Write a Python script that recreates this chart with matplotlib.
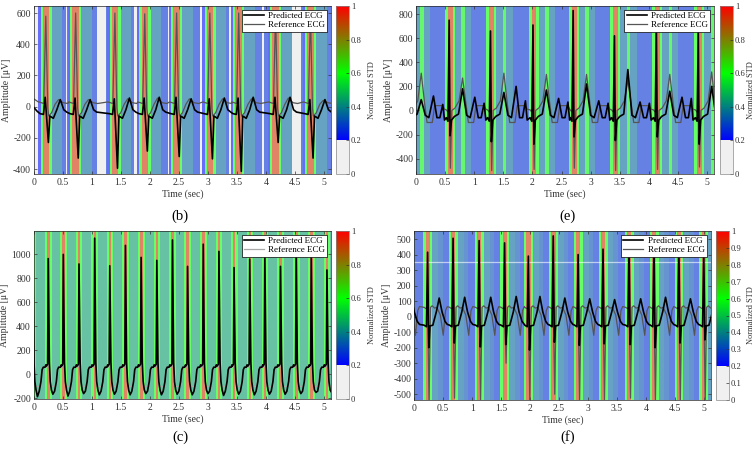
import matplotlib

matplotlib.use("Agg")
import matplotlib.pyplot as plt
from matplotlib.cm import ScalarMappable
from matplotlib.colors import LinearSegmentedColormap, Normalize
from matplotlib.ticker import FuncFormatter

# ---------------------------------------------------------------- panel (b)
b_beats = [0.208, 0.722, 1.398, 1.912, 2.461, 3.033, 3.530, 4.165, 4.766]
b_pred_r = [60, 55, 50, 55, 60, 50, 55, 60, 45]
b_pred_s = [-230, -330, -395, -285, -320, -335, -415, -230, -330]
b_pred_t = [45, 45, 55, 60, 50, 55, 60, 60, 45]
b_ref_r = [580, 600, 600, 595, 600, 600, 600, 600, 600]
b_ref_t = [45, 45, 50, 55, 50, 50, 50, 55, 40]
b_pred_head_t, b_pred_head = [0.0, 0.06], [-5, -30]
b_ref_head_t, b_ref_head = [0.0, 0.08], [50, 30]
b_pred_offs = [-0.10, -0.04, -0.01, 0.045, 0.07, 0.13, 0.19, 0.25, 0.31, 0.36]
b_pred_vals = [-45, -50, "r", "s", -60, -75, -20, "t", -20, -35]
b_ref_offs = [-0.12, -0.035, 0.0, 0.035, 0.05, 0.10, 0.16, 0.22, 0.30, 0.38]
b_ref_vals = [30, 20, "r", -10, -60, -40, 15, "t", 25, 20]
b_band_start = [-0.13, -0.09, -0.055, 0.06, 0.10]
b_band_end = [-0.09, -0.055, 0.06, 0.10, 0.28]
b_band_std = [0.22, 0.6, 0.92, 0.6, 0.36]
b_gap_start = [0.0, 0.55, 1.09, 1.72, 2.31, 2.86, 3.37, 3.93, 4.44]
b_gap_end = [0.08, 0.58, 1.25, 1.80, 2.36, 2.91, 3.41, 3.97, 4.61]

# ---------------------------------------------------------------- panel (e)
e_beats = [-0.14, 0.57, 1.28, 2.01, 2.70, 3.41, 4.13, 4.85]
e_pred_r = [700, 750, 660, 710, 830, 620, 720, 650]
e_pred_s = [-220, -210, -260, -280, -220, -250, -220, -280]
e_pred_t = [90, 180, 150, 170, 220, 340, 160, 200]
e_pred_p1 = [120, 110, 200, 100, 80, 70, 110, 100]
e_pred_p2 = [50, 60, 80, 70, 60, 60, 100, 80]
e_ref_s = [-480, -480, -500, -490, -480, -500, -490, -470]
e_ref_t = [310, 270, 310, 300, 300, 250, 300, 320]
e_pred_offs = [-0.05, -0.02, 0.0, 0.015, 0.04, 0.09, 0.16, 0.23, 0.30, 0.36, 0.44, 0.50, 0.55, 0.60, 0.63]
e_pred_vals = [-60, -90, "r", "s", -80, -50, -30, "t", -40, -60, "p1", -60, -60, "p2", -80]
e_ref_offs = [-0.05, -0.01, 0.005, 0.02, 0.045, 0.10, 0.17, 0.23, 0.29, 0.33, 0.42, 0.46, 0.60, 0.63]
e_ref_vals = [5, -20, 40, "s", 0, 20, 80, "t", 50, -100, -100, 40, 40, 10]
e_band_start = [-0.07, -0.02, 0.06, 0.10, 0.21, 0.27]
e_band_end = [-0.02, 0.06, 0.10, 0.21, 0.27, 0.38]
e_band_std = [0.6, 0.92, 0.6, 0.36, 0.58, 0.36]

# ---------------------------------------------------------------- panel (c)
c_beats = [-0.015, 0.25, 0.51, 0.78, 1.05, 1.31, 1.58, 1.85, 2.12, 2.39,
           2.65, 2.92, 3.19, 3.45, 3.72, 3.98, 4.25, 4.52, 4.78, 5.05]
c_pred_r = [1000, 965, 1000, 920, 1135, 905, 1075, 975, 950, 1120,
            900, 1085, 1025, 890, 960, 1010, 900, 1000, 990, 870]
c_pred_min = [-185, -165, -180, -160, -170, -165, -170, -160, -170, -165,
              -170, -160, -175, -165, -170, -165, -165, -160, -150, -150]
c_ref_r = [430, 410, 440, 440, 445, 440, 440, 440, 440, 440,
           440, 440, 440, 440, 440, 440, 440, 440, 440, 440]
c_pred_offs = [-0.03, -0.01, 0.0, 0.02, 0.035, 0.055, 0.08, 0.11, 0.14, 0.16, 0.18, 0.21, 0.225]
c_pred_vals = [70, 85, "r", 100, -60, -130, "mn", -140, -60, 40, 60, 60, 80]
c_ref_offs = [-0.03, -0.008, 0.0, 0.02, 0.04, 0.12, 0.15, 0.17, 0.225]
c_ref_vals = [60, 65, "r", 60, -100, -100, 0, 60, 60]
c_band_start = [-0.055, -0.02, 0.025]
c_band_end = [-0.02, 0.025, 0.06]
c_band_std = [0.6, 0.92, 0.6]

# ---------------------------------------------------------------- panel (f)
f_beats = [-0.25, 0.23, 0.67, 1.12, 1.56, 1.97, 2.40, 2.83, 3.26, 3.71, 4.14, 4.57, 5.00]
f_pred_r = [420, 415, 505, 490, 475, 390, 520, 400, 435, 470, 480, 450, 420]
f_pred_s = [-180, -200, -170, -195, -180, -215, -165, -185, -175, -180, -200, -170, -150]
f_pred_t = [120, 120, 125, 125, 130, 130, 120, 115, 110, 115, 125, 115, 115]
f_ref_s = [-540, -550, -525, -545, -300, -545, -500, -545, -540, -525, -545, -545, -545]
f_pred_offs = [-0.06, -0.02, 0.0, 0.02, 0.04, 0.09, 0.15, 0.20, 0.25, 0.30, 0.34]
f_pred_vals = [-55, -65, "r", "s", -60, -55, 30, "t", 30, -30, -50]
f_ref_offs = [-0.06, -0.02, 0.0, 0.025, 0.05, 0.08, 0.12, 0.16, 0.22, 0.27, 0.31, 0.34]
f_ref_vals = [60, 50, 80, "s", 60, 70, 55, 60, 10, -120, 40, 65]
f_band_start = [-0.075, -0.035, 0.04, 0.08, 0.18]
f_band_end = [-0.035, 0.04, 0.08, 0.18, 0.26]
f_band_std = [0.6, 0.92, 0.6, 0.36, 0.32]
f_hline = 350

GAP_STD = 0.1
BAND_ALPHA = 0.6
XMAX = 5.12

STD_CMAP = LinearSegmentedColormap.from_list(
    "std",
    [(0.0, "#f0f0f0"), (0.2, "#f0f0f0"), (0.2, "#0000ff"), (0.6, "#00ff00"), (1.0, "#ff0000")],
    N=512,
)
NORM = Normalize(0, 1)

plt.rcParams.update(
    {
        "font.family": ["Liberation Serif", "DejaVu Serif"],
        "font.size": 7,
        "axes.unicode_minus": False,
        "axes.linewidth": 0.5,
        "axes.edgecolor": "#262626",
        "xtick.direction": "in",
        "ytick.direction": "in",
        "xtick.top": True,
        "ytick.right": True,
        "xtick.major.size": 2.5,
        "ytick.major.size": 2.5,
        "xtick.major.width": 0.5,
        "ytick.major.width": 0.5,
        "xtick.major.pad": 3,
        "ytick.major.pad": 2,
        "xtick.color": "#333333",
        "ytick.color": "#333333",
        "axes.labelcolor": "#333333",
        "axes.labelpad": 1.5,
    }
)


def build(beats, offs, spec, per_beat, head_t=(), head_v=()):
    ts, vs = list(head_t), list(head_v)
    for i, tb in enumerate(beats):
        for o, s in zip(offs, spec):
            ts.append(tb + o)
            vs.append(per_beat[s][i] if isinstance(s, str) else s)
    return ts, vs


def band_color(v, alpha=BAND_ALPHA):
    # band colour as seen on white paper (opaque, so overlaps do not darken)
    r, g, b, _ = STD_CMAP(NORM(v))
    return tuple(alpha * c + (1 - alpha) for c in (r, g, b))


def panel(rect, cb_rect, letter, letter_xy, ylim, yticks, cb_ticks, cb_label_x, beats,
          pred, ref, band, base, gaps=None, ref_color="#555555", hline=None):
    ax = fig.add_axes(rect)
    ax.axvspan(0, XMAX, color=band_color(base), lw=0, zorder=0)
    if gaps:
        for s, e in zip(*gaps):
            ax.axvspan(s, e, color=band_color(GAP_STD, 1.0), lw=0, zorder=0.5)
    for tb in beats:
        for s, e, v in zip(*band):
            ax.axvspan(tb + s, tb + e, color=band_color(v), lw=0, zorder=1)
    if hline is not None:
        ax.axhline(hline, color="white", lw=0.9, alpha=0.6, zorder=1.5)
    ax.plot(ref[0], ref[1], color=ref_color, lw=0.9, label="Reference ECG", zorder=2)
    ax.plot(pred[0], pred[1], color="black", lw=1.2, label="Predicted ECG", zorder=3)
    ax.set_xlim(0, XMAX)
    ax.set_ylim(*ylim)
    ax.set_xticks([0, 0.5, 1, 1.5, 2, 2.5, 3, 3.5, 4, 4.5, 5])
    ax.set_yticks(yticks)
    ax.xaxis.set_major_formatter(FuncFormatter(lambda v, p: f"{v:g}"))
    ax.set_xlabel("Time (sec)")
    ax.set_ylabel("Amplitude [μV]")
    h, l = ax.get_legend_handles_labels()
    leg = ax.legend(
        h[::-1], l[::-1], loc="upper right", fontsize=6.5, frameon=True, fancybox=False,
        edgecolor="black", framealpha=1, borderpad=0.25, labelspacing=0.1,
        handlelength=2.2, handletextpad=0.5, borderaxespad=0.4,
    )
    leg.get_frame().set_linewidth(0.5)
    leg.set_zorder(5)

    cax = fig.add_axes(cb_rect)
    cb = fig.colorbar(ScalarMappable(norm=NORM, cmap=STD_CMAP), cax=cax)
    cb.set_ticks(cb_ticks)
    cb.ax.yaxis.set_major_formatter(FuncFormatter(lambda v, p: f"{v:g}"))
    cb.ax.tick_params(direction="in", length=2, width=0.5, pad=1.5, labelsize=6.2)
    cb.outline.set_linewidth(0.5)
    cb.outline.set_edgecolor("#888888")
    cb.set_label("Normalized STD", fontsize=6)
    cb.ax.yaxis.set_label_coords(cb_label_x, 0.5)
    fig.text(letter_xy[0], letter_xy[1], letter, fontsize=10.5, ha="center", va="center")
    return ax


fig = plt.figure(figsize=(7.55, 4.51), dpi=100)

W, H = 755.0, 451.0
cb5 = [0, 0.2, 0.4, 0.6, 0.8, 1]
cb10 = [0, 0.1, 0.2, 0.3, 0.4, 0.5, 0.6, 0.7, 0.8, 0.9, 1]

pb = build(b_beats, b_pred_offs, b_pred_vals, {"r": b_pred_r, "s": b_pred_s, "t": b_pred_t},
           b_pred_head_t, b_pred_head)
rb = build(b_beats, b_ref_offs, b_ref_vals, {"r": b_ref_r, "t": b_ref_t}, b_ref_head_t, b_ref_head)
panel([33.7 / W, 1 - 174 / H, 297.3 / W, 168 / H], [336 / W, 1 - 174 / H, 13 / W, 168 / H],
      "(b)", (180 / W, 1 - 216 / H), (-432, 645), range(-400, 601, 200), cb5, 2.5, b_beats,
      pb, rb, (b_band_start, b_band_end, b_band_std), 0.27, gaps=(b_gap_start, b_gap_end))

pe = build(e_beats, e_pred_offs, e_pred_vals,
           {"r": e_pred_r, "s": e_pred_s, "t": e_pred_t, "p1": e_pred_p1, "p2": e_pred_p2})
re_ = build(e_beats, e_ref_offs, e_ref_vals, {"s": e_ref_s, "t": e_ref_t})
panel([416 / W, 1 - 174 / H, 298 / W, 168 / H], [720 / W, 1 - 174 / H, 13 / W, 168 / H],
      "(e)", (568 / W, 1 - 216 / H), (-528, 868), range(-400, 801, 200), cb5, 2.05, e_beats,
      pe, re_, (e_band_start, e_band_end, e_band_std), 0.27)

pc = build(c_beats, c_pred_offs, c_pred_vals, {"r": c_pred_r, "mn": c_pred_min})
rc = build(c_beats, c_ref_offs, c_ref_vals, {"r": c_ref_r})
panel([33.7 / W, 1 - 399 / H, 297.3 / W, 168 / H], [336 / W, 1 - 399 / H, 13 / W, 168 / H],
      "(c)", (180 / W, 1 - 437 / H), (-205, 1195), range(-200, 1001, 200), cb5, 2.5, c_beats,
      pc, rc, (c_band_start, c_band_end, c_band_std), 0.44, ref_color="#a8a8a8")

pf = build(f_beats, f_pred_offs, f_pred_vals, {"r": f_pred_r, "s": f_pred_s, "t": f_pred_t})
rf = build(f_beats, f_ref_offs, f_ref_vals, {"s": f_ref_s})
panel([414.3 / W, 1 - 400 / H, 296.4 / W, 169 / H], [716 / W, 1 - 400 / H, 13 / W, 169 / H],
      "(f)", (568 / W, 1 - 437 / H), (-537, 552), range(-500, 501, 100), cb10, 2.4, f_beats,
      pf, rf, (f_band_start, f_band_end, f_band_std), 0.27, hline=f_hline)

fig.savefig("out.png", dpi=100)
